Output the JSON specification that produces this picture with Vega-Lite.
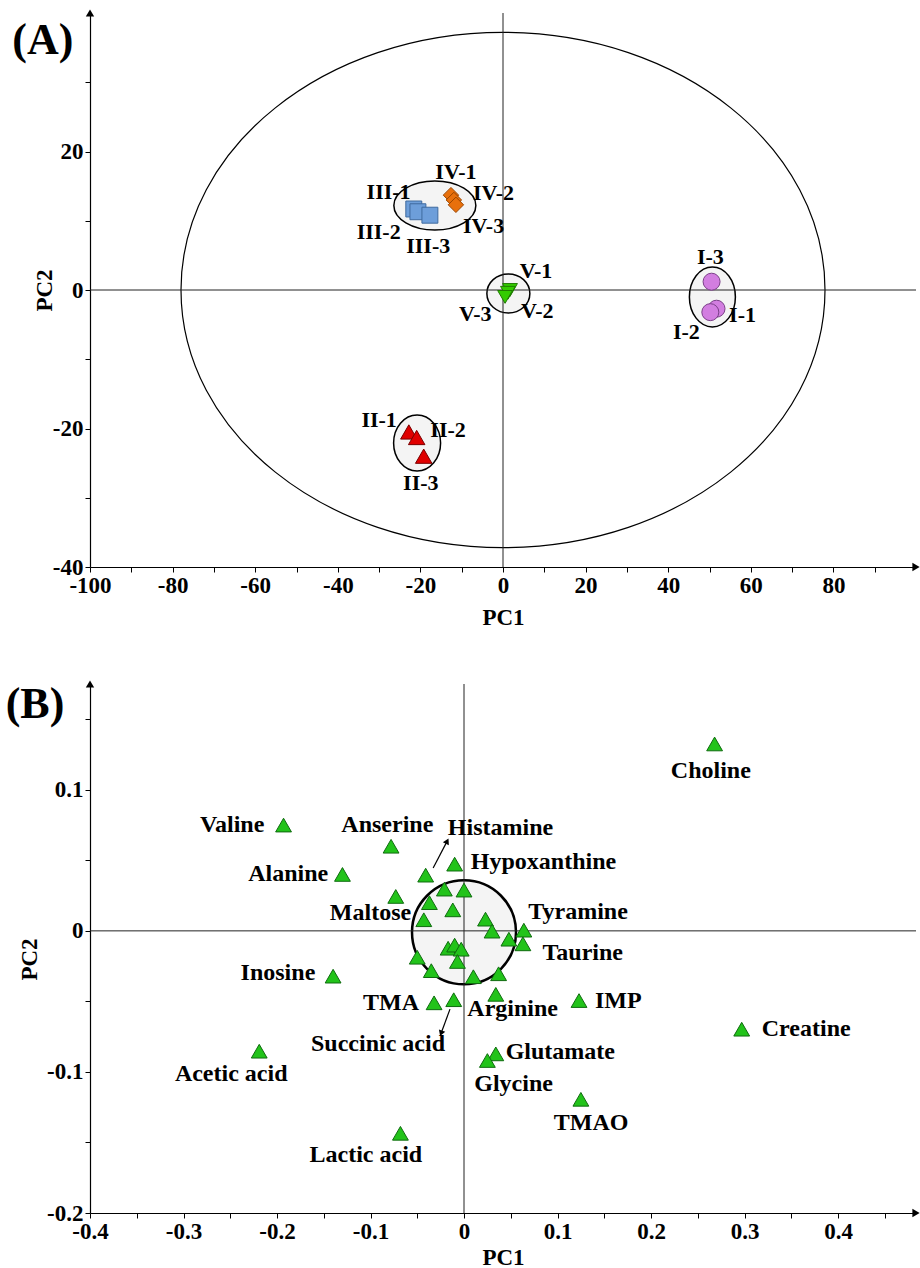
{
  "$schema": "https://vega.github.io/schema/vega-lite/v6.json",
  "background": "white",
  "padding": {"left": 5, "top": 9, "right": 1, "bottom": 3},
  "spacing": 51,
  "config": {
    "view": {"stroke": null},
    "axis": {
      "labelFont": "Liberation Serif", "labelFontWeight": "bold", "labelFontSize": 23, "labelColor": "black",
      "titleFont": "Liberation Serif", "titleFontWeight": "bold", "titleFontSize": 23, "titleColor": "black",
      "domainColor": "black", "domainWidth": 1.2, "tickColor": "black", "tickSize": 5, "tickWidth": 1,
      "grid": false, "labelFlush": false, "labelOverlap": false, "labelPadding": 2
    },
    "text": {"font": "Liberation Serif", "fontWeight": "bold", "fontSize": 22, "color": "black"}
  },
  "datasets": {
    "scoresA": [
      {"sample": "I-1", "group": "I", "PC1": 51.7, "PC2": -2.7, "lx": 58.0, "ly": -3.6},
      {"sample": "I-2", "group": "I", "PC1": 50.2, "PC2": -3.2, "lx": 44.4, "ly": -6.0},
      {"sample": "I-3", "group": "I", "PC1": 50.5, "PC2": 1.2, "lx": 50.2, "ly": 4.8},
      {"sample": "II-1", "group": "II", "PC1": -22.8, "PC2": -20.5, "lx": -30.0, "ly": -18.8},
      {"sample": "II-2", "group": "II", "PC1": -20.9, "PC2": -21.3, "lx": -13.3, "ly": -20.2},
      {"sample": "II-3", "group": "II", "PC1": -19.2, "PC2": -24.0, "lx": -19.9, "ly": -27.8},
      {"sample": "III-1", "group": "III", "PC1": -21.6, "PC2": 11.7, "lx": -27.7, "ly": 14.2},
      {"sample": "III-2", "group": "III", "PC1": -20.6, "PC2": 11.3, "lx": -30.1, "ly": 8.4},
      {"sample": "III-3", "group": "III", "PC1": -17.7, "PC2": 10.8, "lx": -18.1, "ly": 6.4},
      {"sample": "IV-1", "group": "IV", "PC1": -12.6, "PC2": 13.7, "lx": -11.4, "ly": 17.1},
      {"sample": "IV-2", "group": "IV", "PC1": -11.9, "PC2": 13.0, "lx": -2.3, "ly": 14.0},
      {"sample": "IV-3", "group": "IV", "PC1": -11.4, "PC2": 12.3, "lx": -4.7, "ly": 9.2},
      {"sample": "V-1", "group": "V", "PC1": 1.7, "PC2": 0.0, "lx": 8.0, "ly": 2.8},
      {"sample": "V-2", "group": "V", "PC1": 1.2, "PC2": -0.4, "lx": 8.3, "ly": -3.1},
      {"sample": "V-3", "group": "V", "PC1": 0.5, "PC2": -1.0, "lx": -6.7, "ly": -3.5}
    ],
    "ellipsesA": [
      {"group": "all", "PC1": 0, "PC2": 0},
      {"group": "I", "PC1": 50.7, "PC2": -1.0},
      {"group": "II", "PC1": -20.8, "PC2": -22.1},
      {"group": "III-IV", "PC1": -16.5, "PC2": 12.2},
      {"group": "V", "PC1": 1.3, "PC2": -0.5}
    ],
    "loadingsB": [
      {"metabolite": "Choline", "PC1": 0.268, "PC2": 0.1325},
      {"metabolite": "Valine", "PC1": -0.193, "PC2": 0.075},
      {"metabolite": "Anserine", "PC1": -0.078, "PC2": 0.060},
      {"metabolite": "Alanine", "PC1": -0.130, "PC2": 0.040},
      {"metabolite": "Histamine", "PC1": -0.041, "PC2": 0.0395},
      {"metabolite": "Hypoxanthine", "PC1": -0.010, "PC2": 0.0473},
      {"metabolite": "", "PC1": -0.073, "PC2": 0.0244},
      {"metabolite": "", "PC1": -0.021, "PC2": 0.0296},
      {"metabolite": "", "PC1": 0.000, "PC2": 0.0289},
      {"metabolite": "", "PC1": -0.037, "PC2": 0.020},
      {"metabolite": "", "PC1": -0.012, "PC2": 0.0149},
      {"metabolite": "Maltose", "PC1": -0.043, "PC2": 0.0079},
      {"metabolite": "", "PC1": 0.023, "PC2": 0.0083},
      {"metabolite": "", "PC1": 0.030, "PC2": -0.0002},
      {"metabolite": "Tyramine", "PC1": 0.064, "PC2": 0.0005},
      {"metabolite": "", "PC1": 0.048, "PC2": -0.0059},
      {"metabolite": "Taurine", "PC1": 0.063, "PC2": -0.0092},
      {"metabolite": "", "PC1": -0.017, "PC2": -0.0123},
      {"metabolite": "", "PC1": -0.010, "PC2": -0.0101},
      {"metabolite": "", "PC1": -0.003, "PC2": -0.013},
      {"metabolite": "", "PC1": -0.050, "PC2": -0.0187},
      {"metabolite": "", "PC1": -0.007, "PC2": -0.0217},
      {"metabolite": "", "PC1": -0.035, "PC2": -0.0282},
      {"metabolite": "", "PC1": 0.010, "PC2": -0.0325},
      {"metabolite": "", "PC1": 0.037, "PC2": -0.0304},
      {"metabolite": "Arginine", "PC1": 0.034, "PC2": -0.045},
      {"metabolite": "Inosine", "PC1": -0.140, "PC2": -0.0321},
      {"metabolite": "TMA", "PC1": -0.032, "PC2": -0.051},
      {"metabolite": "Succinic acid", "PC1": -0.011, "PC2": -0.0488},
      {"metabolite": "IMP", "PC1": 0.123, "PC2": -0.0494},
      {"metabolite": "Glutamate", "PC1": 0.034, "PC2": -0.0872},
      {"metabolite": "Glycine", "PC1": 0.025, "PC2": -0.0919},
      {"metabolite": "TMAO", "PC1": 0.125, "PC2": -0.1194},
      {"metabolite": "Creatine", "PC1": 0.297, "PC2": -0.0697},
      {"metabolite": "Acetic acid", "PC1": -0.219, "PC2": -0.0853},
      {"metabolite": "Lactic acid", "PC1": -0.068, "PC2": -0.1435}
    ],
    "labelsB": [
      {"label": "Choline", "lx": 0.264, "ly": 0.113},
      {"label": "Valine", "lx": -0.248, "ly": 0.075},
      {"label": "Anserine", "lx": -0.082, "ly": 0.075},
      {"label": "Histamine", "lx": 0.039, "ly": 0.073},
      {"label": "Hypoxanthine", "lx": 0.085, "ly": 0.049},
      {"label": "Alanine", "lx": -0.188, "ly": 0.0405},
      {"label": "Maltose", "lx": -0.100, "ly": 0.0126},
      {"label": "Tyramine", "lx": 0.122, "ly": 0.0133},
      {"label": "Taurine", "lx": 0.127, "ly": -0.0155},
      {"label": "Inosine", "lx": -0.199, "ly": -0.030},
      {"label": "IMP", "lx": 0.165, "ly": -0.050},
      {"label": "TMA", "lx": -0.078, "ly": -0.051},
      {"label": "Arginine", "lx": 0.052, "ly": -0.0555},
      {"label": "Succinic acid", "lx": -0.092, "ly": -0.080},
      {"label": "Creatine", "lx": 0.366, "ly": -0.0697},
      {"label": "Glutamate", "lx": 0.103, "ly": -0.086},
      {"label": "Acetic acid", "lx": -0.249, "ly": -0.1017},
      {"label": "Glycine", "lx": 0.053, "ly": -0.1088},
      {"label": "TMAO", "lx": 0.136, "ly": -0.1364},
      {"label": "Lactic acid", "lx": -0.105, "ly": -0.159}
    ],
    "arrowsB": [
      {"name": "Histamine", "x1": -0.033, "y1": 0.0445, "x2": -0.018, "y2": 0.0636},
      {"name": "Succinic acid", "x1": -0.015, "y1": -0.0555, "x2": -0.0245, "y2": -0.0726}
    ]
  },
  "vconcat": [
    {
      "width": 826,
      "height": 554,
      "layer": [
        {
          "data": {"name": "ellipsesA"},
          "transform": [{"filter": "datum.group === 'all'"}],
          "mark": {"type": "point", "shape": "M1,0C1,0.4418 0.5523,0.8 0,0.8C-0.5523,0.8 -1,0.4418 -1,0C-1,-0.4418 -0.5523,-0.8 0,-0.8C0.5523,-0.8 1,-0.4418 1,0Z", "size": 414736, "filled": false, "stroke": "black", "strokeWidth": 1.2, "opacity": 1},
          "encoding": {
            "x": {"field": "PC1", "type": "quantitative", "scale": {"domain": [-100, 100], "nice": false, "zero": false},
              "axis": {"title": "PC1", "titlePadding": 9, "values": [-100,-95,-90,-85,-80,-75,-70,-65,-60,-55,-50,-45,-40,-35,-30,-25,-20,-15,-10,-5,0,5,10,15,20,25,30,35,40,45,50,55,60,65,70,75,80,85,90,95],
                "labelExpr": "datum.value % 20 === 0 ? (datum.value < 0 ? '-' : '') + abs(datum.value) : ''"}},
            "y": {"field": "PC2", "type": "quantitative", "scale": {"domain": [-40, 40], "nice": false, "zero": false},
              "axis": {"title": "PC2", "titlePadding": -4, "values": [-40,-35,-30,-25,-20,-15,-10,-5,0,5,10,15,20,25,30,35],
                "labelExpr": "datum.value % 20 === 0 ? (datum.value < 0 ? '-' : '') + abs(datum.value) : ''"}}
          }
        },
        {
          "data": {"name": "ellipsesA"},
          "transform": [{"filter": "datum.group === 'III-IV'"}],
          "mark": {"type": "point", "shape": "M1,0C1,0.3301 0.5523,0.5976 0,0.5976C-0.5523,0.5976 -1,0.3301 -1,0C-1,-0.3301 -0.5523,-0.5976 0,-0.5976C0.5523,-0.5976 1,-0.3301 1,0Z", "size": 6724, "filled": true, "fill": "#f4f4f4", "stroke": "black", "strokeWidth": 1.5, "opacity": 1},
          "encoding": {
            "x": {"field": "PC1", "type": "quantitative", "scale": {"domain": [-100, 100], "nice": false, "zero": false}},
            "y": {"field": "PC2", "type": "quantitative", "scale": {"domain": [-40, 40], "nice": false, "zero": false}}
          }
        },
        {
          "data": {"name": "ellipsesA"},
          "transform": [{"filter": "datum.group === 'V'"}],
          "mark": {"type": "point", "shape": "M1,0C1,0.5009 0.5523,0.907 0,0.907C-0.5523,0.907 -1,0.5009 -1,0C-1,-0.5009 -0.5523,-0.907 0,-0.907C0.5523,-0.907 1,-0.5009 1,0Z", "size": 1849, "filled": true, "fill": "#f4f4f4", "stroke": "black", "strokeWidth": 1.5, "opacity": 1},
          "encoding": {
            "x": {"field": "PC1", "type": "quantitative", "scale": {"domain": [-100, 100], "nice": false, "zero": false}},
            "y": {"field": "PC2", "type": "quantitative", "scale": {"domain": [-40, 40], "nice": false, "zero": false}}
          }
        },
        {
          "data": {"name": "ellipsesA"},
          "transform": [{"filter": "datum.group === 'I'"}],
          "mark": {"type": "point", "shape": "M1,0C1,0.7202 0.5523,1.304 0,1.304C-0.5523,1.304 -1,0.7202 -1,0C-1,-0.7202 -0.5523,-1.304 0,-1.304C0.5523,-1.304 1,-0.7202 1,0Z", "size": 2116, "filled": true, "fill": "#f4f4f4", "stroke": "black", "strokeWidth": 1.5, "opacity": 1},
          "encoding": {
            "x": {"field": "PC1", "type": "quantitative", "scale": {"domain": [-100, 100], "nice": false, "zero": false}},
            "y": {"field": "PC2", "type": "quantitative", "scale": {"domain": [-40, 40], "nice": false, "zero": false}}
          }
        },
        {
          "data": {"name": "ellipsesA"},
          "transform": [{"filter": "datum.group === 'II'"}],
          "mark": {"type": "point", "shape": "M1,0C1,0.6578 0.5523,1.191 0,1.191C-0.5523,1.191 -1,0.6578 -1,0C-1,-0.6578 -0.5523,-1.191 0,-1.191C0.5523,-1.191 1,-0.6578 1,0Z", "size": 2209, "filled": true, "fill": "#f4f4f4", "stroke": "black", "strokeWidth": 1.5, "opacity": 1},
          "encoding": {
            "x": {"field": "PC1", "type": "quantitative", "scale": {"domain": [-100, 100], "nice": false, "zero": false}},
            "y": {"field": "PC2", "type": "quantitative", "scale": {"domain": [-40, 40], "nice": false, "zero": false}}
          }
        },
        {
          "data": {"values": [{"zero": 0}]},
          "mark": {"type": "rule", "color": "#222222", "strokeWidth": 1},
          "encoding": {"y": {"field": "zero", "type": "quantitative", "scale": {"domain": [-40, 40], "nice": false, "zero": false}}}
        },
        {
          "data": {"values": [{"zero": 0}]},
          "mark": {"type": "rule", "color": "#222222", "strokeWidth": 1},
          "encoding": {"x": {"field": "zero", "type": "quantitative", "scale": {"domain": [-100, 100], "nice": false, "zero": false}}}
        },
        {
          "data": {"name": "scoresA"},
          "mark": {"type": "point", "filled": true, "opacity": 1, "strokeWidth": 1},
          "encoding": {
            "x": {"field": "PC1", "type": "quantitative", "scale": {"domain": [-100, 100], "nice": false, "zero": false}},
            "y": {"field": "PC2", "type": "quantitative", "scale": {"domain": [-40, 40], "nice": false, "zero": false}},
            "shape": {"field": "group", "type": "nominal", "scale": {"domain": ["I", "II", "III", "IV", "V"], "range": ["circle", "triangle-up", "square", "diamond", "triangle-down"]}, "legend": null},
            "fill": {"field": "group", "type": "nominal", "scale": {"domain": ["I", "II", "III", "IV", "V"], "range": ["#d27ee0", "#e00000", "#6d9eda", "#e8700c", "#33cc00"]}, "legend": null},
            "stroke": {"field": "group", "type": "nominal", "scale": {"domain": ["I", "II", "III", "IV", "V"], "range": ["#7a3f88", "#7a0000", "#3f6a9e", "#9a4500", "#1f7a00"]}, "legend": null},
            "size": {"field": "group", "type": "ordinal", "scale": {"domain": ["I", "II", "III", "IV", "V"], "range": [289, 220, 256, 200, 230]}, "legend": null}
          }
        },
        {
          "data": {"name": "scoresA"},
          "mark": {"type": "text", "align": "center", "baseline": "middle"},
          "encoding": {
            "x": {"field": "lx", "type": "quantitative", "scale": {"domain": [-100, 100], "nice": false, "zero": false}},
            "y": {"field": "ly", "type": "quantitative", "scale": {"domain": [-40, 40], "nice": false, "zero": false}},
            "text": {"field": "sample"}
          }
        },
        {
          "data": {"values": [{"panel": "(A)", "PC1": -111.4, "PC2": 35.9}]},
          "mark": {"type": "text", "align": "center", "baseline": "middle", "fontSize": 44},
          "encoding": {
            "x": {"field": "PC1", "type": "quantitative", "scale": {"domain": [-100, 100], "nice": false, "zero": false}},
            "y": {"field": "PC2", "type": "quantitative", "scale": {"domain": [-40, 40], "nice": false, "zero": false}},
            "text": {"field": "panel"}
          }
        },
        {
          "data": {"values": [{"PC1": -100, "PC2": 40}]},
          "mark": {"type": "point", "shape": "triangle-up", "size": 70, "filled": true, "color": "black", "opacity": 1},
          "encoding": {
            "x": {"field": "PC1", "type": "quantitative", "scale": {"domain": [-100, 100], "nice": false, "zero": false}},
            "y": {"field": "PC2", "type": "quantitative", "scale": {"domain": [-40, 40], "nice": false, "zero": false}}
          }
        },
        {
          "data": {"values": [{"PC1": 100, "PC2": -40}]},
          "mark": {"type": "point", "shape": "triangle-right", "size": 70, "filled": true, "color": "black", "opacity": 1},
          "encoding": {
            "x": {"field": "PC1", "type": "quantitative", "scale": {"domain": [-100, 100], "nice": false, "zero": false}},
            "y": {"field": "PC2", "type": "quantitative", "scale": {"domain": [-40, 40], "nice": false, "zero": false}}
          }
        }
      ]
    },
    {
      "width": 826,
      "height": 529,
      "layer": [
        {
          "data": {"values": [{"PC1": 0, "PC2": -0.001}]},
          "mark": {"type": "point", "shape": "circle", "size": 10816, "filled": true, "fill": "#f4f4f4", "stroke": "black", "strokeWidth": 2.5, "opacity": 1},
          "encoding": {
            "x": {"field": "PC1", "type": "quantitative", "scale": {"domain": [-0.4, 0.4834], "nice": false, "zero": false},
              "axis": {"title": "PC1", "titlePadding": 3, "values": [-0.4,-0.35,-0.3,-0.25,-0.2,-0.15,-0.1,-0.05,0,0.05,0.1,0.15,0.2,0.25,0.3,0.35,0.4,0.45],
                "labelExpr": "abs(round(datum.value * 100)) % 10 === 0 ? (abs(datum.value) < 1e-9 ? '0' : (datum.value < 0 ? '-' : '') + format(abs(datum.value), '.1f')) : ''"}},
            "y": {"field": "PC2", "type": "quantitative", "scale": {"domain": [-0.2, 0.175], "nice": false, "zero": false},
              "axis": {"title": "PC2", "titlePadding": 5, "titleY": 275, "values": [-0.2,-0.15,-0.1,-0.05,0,0.05,0.1,0.15],
                "labelExpr": "abs(round(datum.value * 100)) % 10 === 0 ? (abs(datum.value) < 1e-9 ? '0' : (datum.value < 0 ? '-' : '') + format(abs(datum.value), '.1f')) : ''"}}
          }
        },
        {
          "data": {"values": [{"zero": 0}]},
          "mark": {"type": "rule", "color": "#222222", "strokeWidth": 1},
          "encoding": {"y": {"field": "zero", "type": "quantitative", "scale": {"domain": [-0.2, 0.175], "nice": false, "zero": false}}}
        },
        {
          "data": {"values": [{"zero": 0}]},
          "mark": {"type": "rule", "color": "#222222", "strokeWidth": 1},
          "encoding": {"x": {"field": "zero", "type": "quantitative", "scale": {"domain": [-0.4, 0.4834], "nice": false, "zero": false}}}
        },
        {
          "data": {"name": "arrowsB"},
          "mark": {"type": "rule", "color": "black", "strokeWidth": 1.2},
          "encoding": {
            "x": {"field": "x1", "type": "quantitative", "scale": {"domain": [-0.4, 0.4834], "nice": false, "zero": false}},
            "y": {"field": "y1", "type": "quantitative", "scale": {"domain": [-0.2, 0.175], "nice": false, "zero": false}},
            "x2": {"field": "x2"},
            "y2": {"field": "y2"}
          }
        },
        {
          "data": {"name": "arrowsB"},
          "transform": [{"filter": "datum.name === 'Histamine'"}],
          "mark": {"type": "point", "shape": "triangle-up", "size": 45, "angle": 27, "filled": true, "color": "black", "opacity": 1},
          "encoding": {
            "x": {"field": "x2", "type": "quantitative", "scale": {"domain": [-0.4, 0.4834], "nice": false, "zero": false}},
            "y": {"field": "y2", "type": "quantitative", "scale": {"domain": [-0.2, 0.175], "nice": false, "zero": false}}
          }
        },
        {
          "data": {"name": "arrowsB"},
          "transform": [{"filter": "datum.name === 'Succinic acid'"}],
          "mark": {"type": "point", "shape": "triangle-up", "size": 45, "angle": 200, "filled": true, "color": "black", "opacity": 1},
          "encoding": {
            "x": {"field": "x2", "type": "quantitative", "scale": {"domain": [-0.4, 0.4834], "nice": false, "zero": false}},
            "y": {"field": "y2", "type": "quantitative", "scale": {"domain": [-0.2, 0.175], "nice": false, "zero": false}}
          }
        },
        {
          "data": {"name": "loadingsB"},
          "mark": {"type": "point", "shape": "triangle-up", "size": 250, "filled": true, "fill": "#22c31a", "stroke": "#0f6b0f", "strokeWidth": 1, "opacity": 1},
          "encoding": {
            "x": {"field": "PC1", "type": "quantitative", "scale": {"domain": [-0.4, 0.4834], "nice": false, "zero": false}},
            "y": {"field": "PC2", "type": "quantitative", "scale": {"domain": [-0.2, 0.175], "nice": false, "zero": false}}
          }
        },
        {
          "data": {"name": "labelsB"},
          "mark": {"type": "text", "align": "center", "baseline": "middle", "fontSize": 24},
          "encoding": {
            "x": {"field": "lx", "type": "quantitative", "scale": {"domain": [-0.4, 0.4834], "nice": false, "zero": false}},
            "y": {"field": "ly", "type": "quantitative", "scale": {"domain": [-0.2, 0.175], "nice": false, "zero": false}},
            "text": {"field": "label"}
          }
        },
        {
          "data": {"values": [{"panel": "(B)", "PC1": -0.4588, "PC2": 0.160}]},
          "mark": {"type": "text", "align": "center", "baseline": "middle", "fontSize": 44},
          "encoding": {
            "x": {"field": "PC1", "type": "quantitative", "scale": {"domain": [-0.4, 0.4834], "nice": false, "zero": false}},
            "y": {"field": "PC2", "type": "quantitative", "scale": {"domain": [-0.2, 0.175], "nice": false, "zero": false}},
            "text": {"field": "panel"}
          }
        },
        {
          "data": {"values": [{"PC1": -0.4, "PC2": 0.175}]},
          "mark": {"type": "point", "shape": "triangle-up", "size": 70, "filled": true, "color": "black", "opacity": 1},
          "encoding": {
            "x": {"field": "PC1", "type": "quantitative", "scale": {"domain": [-0.4, 0.4834], "nice": false, "zero": false}},
            "y": {"field": "PC2", "type": "quantitative", "scale": {"domain": [-0.2, 0.175], "nice": false, "zero": false}}
          }
        },
        {
          "data": {"values": [{"PC1": 0.4834, "PC2": -0.2}]},
          "mark": {"type": "point", "shape": "triangle-right", "size": 70, "filled": true, "color": "black", "opacity": 1},
          "encoding": {
            "x": {"field": "PC1", "type": "quantitative", "scale": {"domain": [-0.4, 0.4834], "nice": false, "zero": false}},
            "y": {"field": "PC2", "type": "quantitative", "scale": {"domain": [-0.2, 0.175], "nice": false, "zero": false}}
          }
        }
      ]
    }
  ]
}
